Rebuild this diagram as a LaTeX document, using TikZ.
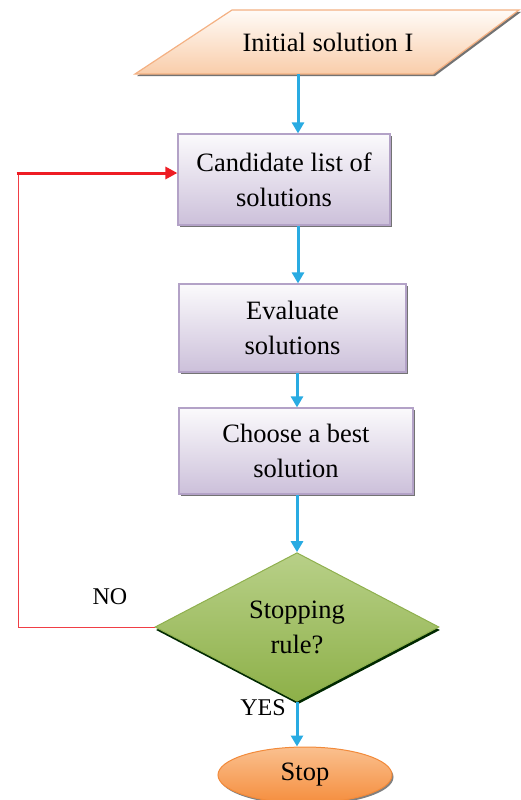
\documentclass[tikz,border=0pt]{standalone}
\usepackage{fontspec}
\setmainfont{Liberation Serif}
\usetikzlibrary{shapes.geometric,arrows.meta,shadows}
\definecolor{boxedge}{HTML}{B3A2C7}
\definecolor{boxbot}{HTML}{CCC0DA}
\definecolor{boxtop}{HTML}{FBFAFC}
\definecolor{paraedge}{HTML}{F4B183}
\definecolor{paratop}{HTML}{FFFBF7}
\definecolor{parabot}{HTML}{F9CDAA}
\definecolor{diaedge}{HTML}{8FB04E}
\definecolor{diatop}{HTML}{B8D088}
\definecolor{diabot}{HTML}{8DB048}
\definecolor{stopedge}{HTML}{F28A3A}
\definecolor{stoptop}{HTML}{FAC08F}
\definecolor{stopbot}{HTML}{F58E3E}
\definecolor{flowblue}{HTML}{29ABE2}
\definecolor{loopred}{HTML}{EE1C24}
\begin{document}
\begin{tikzpicture}[x=1pt,y=-1pt,
  txt/.style={font=\fontsize{26.5}{35}\selectfont, align=center, text=black},
  shad/.style={drop shadow={shadow xshift=2pt,shadow yshift=-2pt,fill=black!55,opacity=1}},
  procbox/.style={txt, draw=boxedge, line width=1.2pt, top color=boxtop, bottom color=boxbot, shad, inner sep=0pt},
  decision/.style={txt, diamond, draw=diaedge, line width=1pt, top color=diatop, bottom color=diabot,
     drop shadow={shadow xshift=1pt,shadow yshift=-3pt,fill=black!60!green!40!black,opacity=1},
     inner sep=0pt, minimum width=284pt, minimum height=142pt},
  terminal/.style={txt, ellipse, draw=stopedge, line width=1pt, top color=stoptop, bottom color=stopbot,
     drop shadow={shadow xshift=1.5pt,shadow yshift=-2pt,fill=black!50,opacity=1},
     inner sep=0pt, minimum width=174pt, minimum height=56pt},
  flow/.style={draw=flowblue, line width=3pt, -{Triangle[width=12pt,length=11pt]}},
  lbl/.style={font=\fontsize{24}{28}\selectfont, text=black}
]
\useasboundingbox (0,0) rectangle (520,800);

% input parallelogram
\fill[black!55] (234,12) -- (521,12) -- (435,76) -- (137,76) -- cycle;
\path[draw=paraedge, line width=1.2pt, top color=paratop, bottom color=parabot]
  (232,10) -- (519,10) -- (433,74) -- (135,74) -- cycle;
\node[txt, minimum width=200pt, minimum height=64pt, inner sep=0pt] (init) at (328,42) {Initial solution I};

\node[procbox, minimum width=212pt, minimum height=91pt] (cand) at (284,179.5) {Candidate list of\\solutions};
\node[procbox, minimum width=227pt, minimum height=88pt] (eval) at (292.5,328) {Evaluate\\solutions};
\node[procbox, minimum width=234pt, minimum height=86pt] (choose) at (296,451) {Choose a best\\solution};
\node[decision] (stoprule) at (297,627) {Stopping\\rule?};
\node[terminal] (stop) at (305,775) {Stop};

\coordinate (ax) at (298,0);
\coordinate (ax2) at (297,0);
\coordinate (loopbot) at (18,627);
\coordinate (looptop) at (18,173);

\draw[flow] (ax |- init.south) -- (ax |- cand.north);
\draw[flow] (ax |- cand.south) -- (ax |- eval.north);
\draw[flow] (ax2 |- eval.south) -- (ax2 |- choose.north);
\draw[flow] (ax2 |- choose.south) -- (stoprule.north);
\draw[flow] (stoprule.south) -- (ax2 |- stop.north);

\draw[loopred!85, line width=1pt] (stoprule.west) -- (loopbot) -- (looptop);
\draw[loopred, line width=3pt, -{Triangle[width=12pt,length=12pt]}] ([xshift=-1.5pt]looptop) -- (cand.west |- looptop);

\node[lbl] (nolabel) at (110,597) {NO};
\node[lbl] (yeslabel) at (263,708) {YES};
\end{tikzpicture}
\end{document}
